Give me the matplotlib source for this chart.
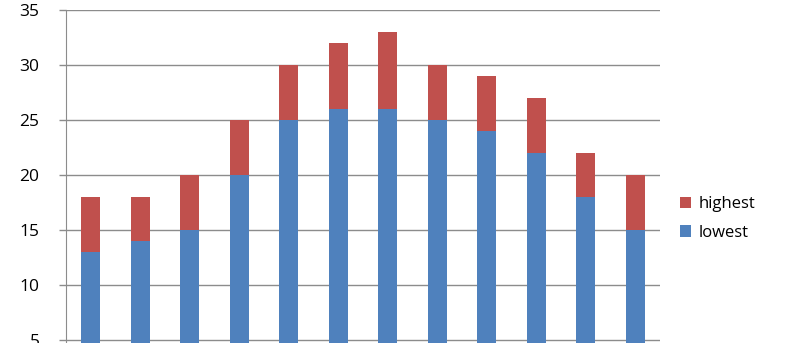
import matplotlib.pyplot as plt
import numpy as np

plt.rcParams['font.family'] = ['Open Sans', 'DejaVu Sans']

months = np.arange(12)
lowest = [13, 14, 15, 20, 25, 26, 26, 25, 24, 22, 18, 15]
highest_total = [18, 18, 20, 25, 30, 32, 33, 30, 29, 27, 22, 20]
highest = [h - l for h, l in zip(highest_total, lowest)]

blue = '#4F81BD'
red = '#C0504D'
grid_col = '#8C8C8C'

fig = plt.figure(figsize=(8, 3.43), dpi=100)
ax = fig.add_axes([66 / 800, 0, 594 / 800, 333 / 343])

b1 = ax.bar(months, lowest, width=0.39, color=blue, label='lowest', zorder=3)
b2 = ax.bar(months, highest, width=0.39, bottom=lowest, color=red, label='highest', zorder=3)

ax.set_xlim(-0.5, 11.5)
ax.set_ylim(4.73, 35)
ax.set_yticks([5, 10, 15, 20, 25, 30, 35])
ax.set_xticks([])
ax.yaxis.grid(True, color=grid_col, linewidth=1)
for s in ['top', 'right', 'bottom']:
    ax.spines[s].set_visible(False)
ax.spines['left'].set_color(grid_col)
ax.tick_params(axis='y', length=5, width=1, color=grid_col, labelsize=12.5, pad=14)

fig.legend([b2, b1], ['highest', 'lowest'], loc='upper left', bbox_to_anchor=(672 / 800, 1 - 188 / 343),
           frameon=False, fontsize=12, handlelength=0.65, handleheight=0.65, labelspacing=0.75,
           handletextpad=0.45, borderpad=0)

fig.savefig('out.png', dpi=100)
